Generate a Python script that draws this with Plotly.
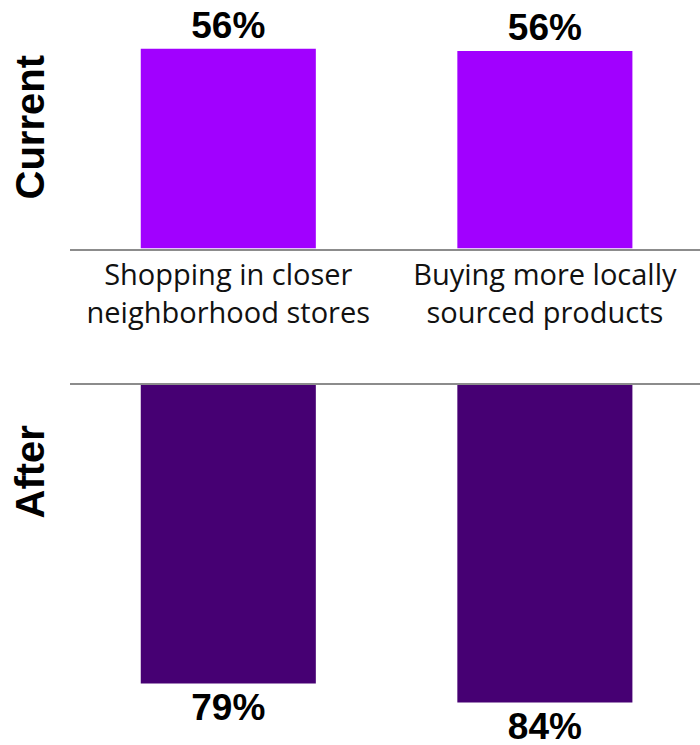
import plotly.graph_objects as go

categories = ["Shopping in closer<br>neighborhood stores", "Buying more locally<br>sourced products"]
current_values = [56.3, 55.7]
after_values = [79, 84]
panel_titles = ["Current", "After"]

current_labels = [f"{round(v)}%" for v in current_values]
after_labels = [f"{round(v)}%" for v in after_values]

W, H = 700, 745
top_base_px = 248.5
bot_base_px = 385.0
top_scale = 3.547   # px per percentage point
bot_scale = 3.78

label_font = dict(family="Liberation Sans, Arial, sans-serif", size=37, color="#000000", weight="bold")

fig = go.Figure()
fig.add_trace(go.Bar(
    x=categories, y=current_values, xaxis="x", yaxis="y",
    marker=dict(color="#A100FF", line=dict(width=0)), width=0.553,
    text=current_labels, textposition="outside", textfont=label_font,
    cliponaxis=False, hoverinfo="skip", showlegend=False,
))
fig.add_trace(go.Bar(
    x=categories, y=after_values, xaxis="x2", yaxis="y2",
    marker=dict(color="#460073", line=dict(width=0)), width=0.553,
    text=after_labels, textposition="outside", textfont=label_font,
    cliponaxis=False, hoverinfo="skip", showlegend=False,
))

top_dom = [1 - top_base_px / H, 1]
bot_dom = [0, 1 - bot_base_px / H]

fig.update_layout(
    width=W, height=H,
    margin=dict(l=70, r=0, t=0, b=0),
    paper_bgcolor="white", plot_bgcolor="white",
    bargap=0.44,
    hovermode=False,
    xaxis=dict(domain=[0, 1], range=[-0.5, 1.49], showline=True, linecolor="#8c8c8c", linewidth=2,
               ticks="", showgrid=False, zeroline=False, fixedrange=True,
               tickfont=dict(family="Open Sans, sans-serif", size=29, color="#111111"),
               anchor="y"),
    yaxis=dict(domain=top_dom, range=[0, top_base_px / top_scale], visible=False,
               showgrid=False, zeroline=False, anchor="x", fixedrange=True),
    xaxis2=dict(domain=[0, 1], range=[-0.5, 1.49], side="top", showline=True, linecolor="#8c8c8c",
                linewidth=2, ticks="", showticklabels=False, showgrid=False, zeroline=False,
                anchor="y2", fixedrange=True),
    yaxis2=dict(domain=bot_dom, range=[(H - bot_base_px) / bot_scale, 0], visible=False,
                showgrid=False, zeroline=False, anchor="x2", fixedrange=True),
)

title_font = dict(family="Liberation Sans, Arial, sans-serif", size=40, color="#000000")
fig.add_annotation(text="<b>" + panel_titles[0] + "</b>", textangle=-90, xref="paper", yref="paper",
                   x=(29 - 70) / 630, y=1 - 127.5 / H, xanchor="center", yanchor="middle",
                   showarrow=False, font=title_font)
fig.add_annotation(text="<b>" + panel_titles[1] + "</b>", textangle=-90, xref="paper", yref="paper",
                   x=(29 - 70) / 630, y=1 - 472.5 / H, xanchor="center", yanchor="middle",
                   showarrow=False, font=title_font)

fig.write_html("out.html", config={"displayModeBar": False},
               post_script="document.body.style.margin='0';")
